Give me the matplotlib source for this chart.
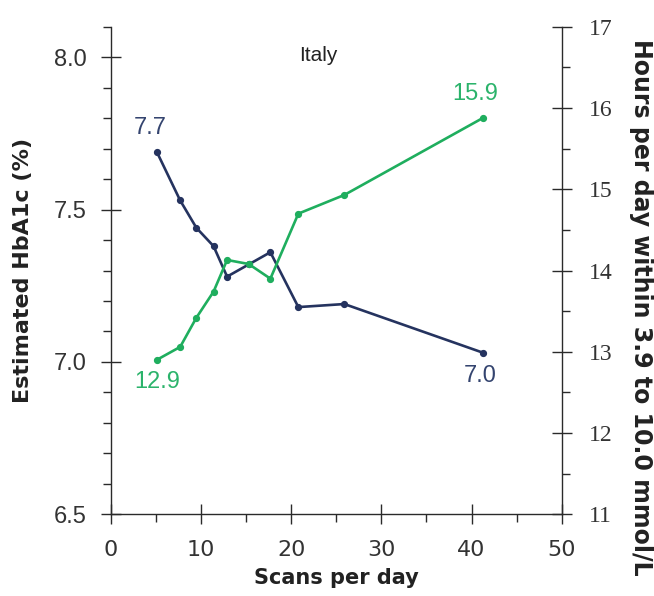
import matplotlib
matplotlib.use("Agg")
import matplotlib.pyplot as plt
from matplotlib.ticker import MultipleLocator, FormatStrFormatter

# Mean values per scan-frequency group
scans_per_day = [5.1, 7.7, 9.5, 11.4, 12.9, 15.3, 17.7, 20.8, 25.9, 41.3]
hba1c_pct = [7.69, 7.53, 7.44, 7.38, 7.28, 7.32, 7.36, 7.18, 7.19, 7.03]
hours_in_range = [12.9, 13.06, 13.42, 13.74, 14.13, 14.08, 13.90, 14.70, 14.93, 15.88]

country = "Italy"
x_ticks = [0, 10, 20, 30, 40, 50]
left_ticks = [6.5, 7.0, 7.5, 8.0]
right_ticks = [11, 12, 13, 14, 15, 16, 17]

NAVY = "#25335f"
GREEN = "#1fae5e"
AXIS = "#2a2a2a"

fig = plt.figure(figsize=(6.54, 5.96), dpi=100)
ax = fig.add_axes([0.1693, 0.1371, 0.6896, 0.818])
ax2 = ax.twinx()

# HbA1c on the left axis
ax.plot(scans_per_day, hba1c_pct, color=NAVY, lw=1.9, marker="o", ms=4.2, zorder=3)
# Time in range on the right axis
ax2.plot(scans_per_day, hours_in_range, color=GREEN, lw=1.9, marker="o", ms=4.2, zorder=3)

ax.set_xlim(0, 50)
ax.set_ylim(6.5, 8.1)
ax2.set_ylim(11, 17)

for a in (ax, ax2):
    a.spines["top"].set_visible(False)
    for s in ("left", "right", "bottom"):
        a.spines[s].set_color(AXIS)
        a.spines[s].set_linewidth(1.0)
ax.spines["right"].set_visible(False)
ax2.spines["left"].set_visible(False)
ax2.spines["bottom"].set_visible(False)

ax.set_xticks(x_ticks)
ax.xaxis.set_minor_locator(MultipleLocator(5))
ax.set_yticks(left_ticks)
ax.yaxis.set_major_formatter(FormatStrFormatter("%.1f"))
ax.yaxis.set_minor_locator(MultipleLocator(0.1))
ax2.set_yticks(right_ticks)
ax2.yaxis.set_minor_locator(MultipleLocator(0.5))

ax.tick_params(axis="both", which="major", direction="inout", length=15, width=1.0,
               color=AXIS, labelcolor="#333333")
ax.tick_params(axis="both", which="minor", direction="out", length=6, width=1.0, color=AXIS)
ax.tick_params(axis="y", which="major", pad=10, labelsize=17)
ax.tick_params(axis="x", which="major", pad=11, labelsize=16)
ax2.tick_params(axis="y", which="major", direction="inout", length=15, width=1.0,
                color=AXIS, labelcolor="#333333", pad=12, labelsize=17)
ax2.tick_params(axis="y", which="minor", direction="out", length=6, width=1.0, color=AXIS)

for lbl in ax.get_yticklabels():
    lbl.set_fontfamily("Liberation Sans")
for lbl in ax.get_xticklabels():
    lbl.set_fontfamily("DejaVu Sans")
for lbl in ax2.get_yticklabels():
    lbl.set_fontfamily("Liberation Serif")

ax.set_xlabel("Scans per day", fontsize=15, fontweight="bold", color="#222222", labelpad=6)
ax.set_ylabel("Estimated HbA1c (%)", fontsize=16, fontweight="bold", color="#222222",
              va="center", ha="center")
ax.yaxis.set_label_coords(-0.194, 0.5)
ax2.set_ylabel("Hours per day within 3.9 to 10.0 mmol/L", fontsize=17, fontweight="bold",
               color="#222222", rotation=-90, va="center", ha="center")
ax2.yaxis.set_label_coords(1.175, 0.425)

ax.text(23, 0.942, country, transform=ax.get_xaxis_transform(), ha="center", va="center",
        fontsize=15, color="#222222", family="Liberation Sans")

# End-point value labels
ax.annotate(f"{hba1c_pct[0]:.1f}", (scans_per_day[0], hba1c_pct[0]), xytext=(-5, 17),
            textcoords="offset points", ha="center", va="center", fontsize=17,
            color="#34446f", family="Liberation Sans")
ax.annotate(f"{hba1c_pct[-1]:.1f}", (scans_per_day[-1], hba1c_pct[-1]), xytext=(-2, -17),
            textcoords="offset points", ha="center", va="center", fontsize=17,
            color="#34446f", family="Liberation Sans")
ax2.annotate(f"{hours_in_range[0]:.1f}", (scans_per_day[0], hours_in_range[0]), xytext=(0, -16),
             textcoords="offset points", ha="center", va="center", fontsize=17,
             color="#2bb36b", family="Liberation Sans")
ax2.annotate(f"{hours_in_range[-1]:.1f}", (scans_per_day[-1], hours_in_range[-1]), xytext=(-6, 17),
             textcoords="offset points", ha="center", va="center", fontsize=17,
             color="#2bb36b", family="Liberation Sans")

fig.savefig("out.png", dpi=100)
